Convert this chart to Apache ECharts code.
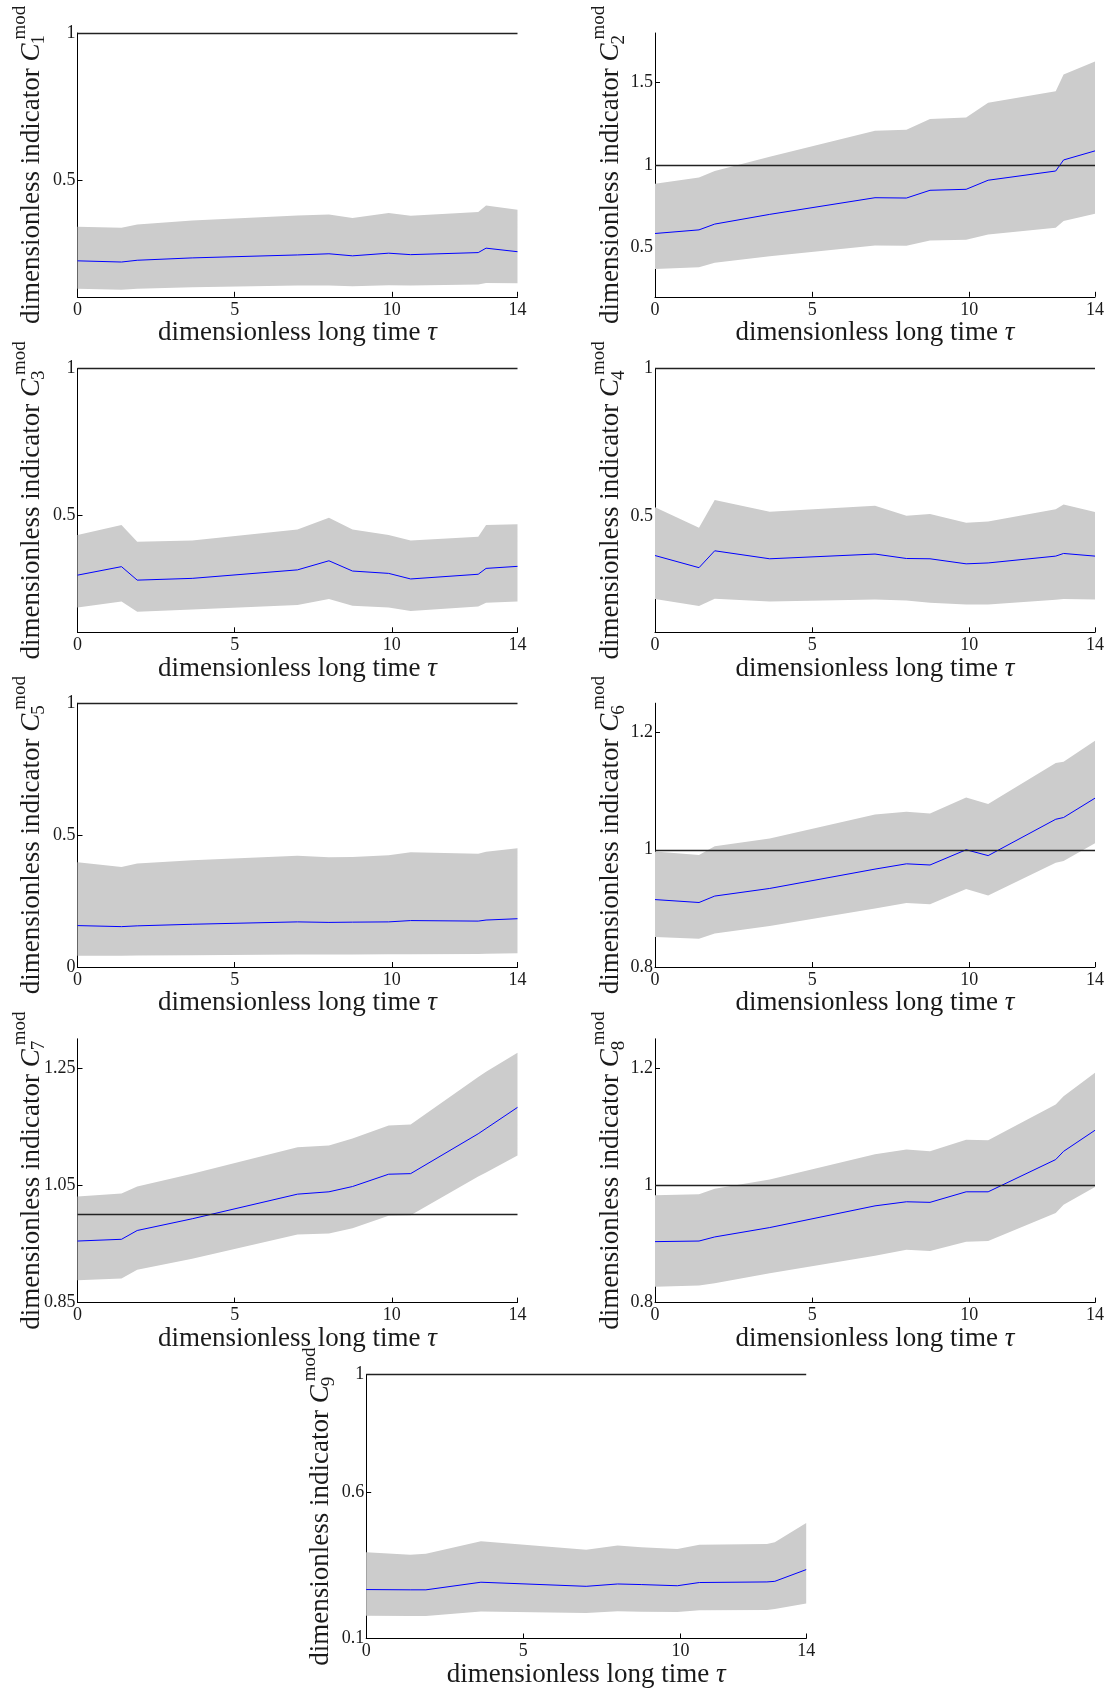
<!DOCTYPE html>
<html><head><meta charset="utf-8">
<script src="https://cdn.jsdelivr.net/npm/echarts@6/dist/echarts.min.js"></script>
<style>html,body{margin:0;padding:0;background:#fff}#c{width:1110px;height:1693px}</style>
</head><body><div id="c"></div>
<script>
// ---- data ----
const tau = [0, 1.4, 1.9, 3.65, 7.0, 8.0, 8.75, 9.9, 10.6, 12.75, 13.0, 14];
const xTicks = [0, 5, 10, 14];

const c1Lower = [0.132, 0.129, 0.132, 0.137, 0.143, 0.143, 0.141, 0.144, 0.143, 0.147, 0.152, 0.151];
const c1Mean  = [0.227, 0.223, 0.229, 0.237, 0.247, 0.251, 0.244, 0.253, 0.248, 0.255, 0.270, 0.258];
const c1Upper = [0.343, 0.339, 0.350, 0.364, 0.381, 0.384, 0.372, 0.389, 0.380, 0.393, 0.415, 0.400];
const c1Ticks = [0.5, 1];

const c2Lower = [0.369, 0.379, 0.406, 0.446, 0.511, 0.509, 0.542, 0.546, 0.578, 0.619, 0.659, 0.704];
const c2Mean  = [0.584, 0.606, 0.641, 0.700, 0.801, 0.799, 0.846, 0.852, 0.907, 0.963, 1.030, 1.085];
const c2Upper = [0.886, 0.923, 0.963, 1.049, 1.207, 1.213, 1.278, 1.288, 1.377, 1.446, 1.548, 1.627];
const c2Ticks = [0.5, 1, 1.5];

const c3Lower = [0.185, 0.205, 0.170, 0.178, 0.193, 0.214, 0.191, 0.185, 0.173, 0.188, 0.201, 0.205];
const c3Mean  = [0.295, 0.324, 0.278, 0.284, 0.313, 0.344, 0.309, 0.301, 0.282, 0.298, 0.318, 0.325];
const c3Upper = [0.432, 0.466, 0.409, 0.413, 0.451, 0.491, 0.451, 0.432, 0.413, 0.426, 0.466, 0.469];
const c3Ticks = [0.5, 1];

const c4Lower = [0.222, 0.199, 0.223, 0.214, 0.221, 0.217, 0.210, 0.204, 0.204, 0.220, 0.222, 0.221];
const c4Mean  = [0.369, 0.328, 0.385, 0.358, 0.374, 0.359, 0.358, 0.341, 0.344, 0.367, 0.376, 0.367];
const c4Upper = [0.532, 0.463, 0.556, 0.517, 0.537, 0.503, 0.509, 0.480, 0.484, 0.525, 0.541, 0.516];
const c4Ticks = [0.5, 1];

const c5Lower = [0.043, 0.043, 0.044, 0.045, 0.047, 0.047, 0.047, 0.048, 0.048, 0.049, 0.050, 0.052];
const c5Mean  = [0.157, 0.153, 0.156, 0.162, 0.171, 0.169, 0.170, 0.171, 0.176, 0.174, 0.178, 0.183];
const c5Upper = [0.397, 0.379, 0.392, 0.405, 0.422, 0.416, 0.417, 0.424, 0.435, 0.429, 0.437, 0.450];
const c5Ticks = [0, 0.5, 1];

const c6Lower = [0.851, 0.848, 0.857, 0.870, 0.900, 0.909, 0.907, 0.933, 0.922, 0.978, 0.981, 1.011];
const c6Mean  = [0.915, 0.910, 0.921, 0.934, 0.967, 0.976, 0.974, 1.000, 0.990, 1.052, 1.055, 1.088];
const c6Upper = [0.997, 0.991, 1.006, 1.019, 1.060, 1.065, 1.062, 1.089, 1.078, 1.148, 1.150, 1.186];
const c6Ticks = [0.8, 1, 1.2];

const c7Lower = [0.888, 0.891, 0.906, 0.925, 0.966, 0.968, 0.977, 0.998, 0.999, 1.065, 1.072, 1.101];
const c7Mean  = [0.955, 0.958, 0.973, 0.993, 1.035, 1.039, 1.048, 1.069, 1.070, 1.138, 1.147, 1.183];
const c7Upper = [1.031, 1.036, 1.048, 1.070, 1.115, 1.118, 1.130, 1.152, 1.154, 1.235, 1.244, 1.276];
const c7Ticks = [0.85, 1.05, 1.25];

const c8Lower = [0.827, 0.829, 0.833, 0.850, 0.880, 0.890, 0.888, 0.904, 0.905, 0.953, 0.967, 0.997];
const c8Mean  = [0.904, 0.905, 0.912, 0.928, 0.965, 0.972, 0.971, 0.989, 0.989, 1.044, 1.058, 1.094];
const c8Upper = [0.983, 0.985, 0.994, 1.010, 1.053, 1.061, 1.058, 1.078, 1.077, 1.138, 1.152, 1.192];
const c8Ticks = [0.8, 1, 1.2];

const c9Lower = [0.178, 0.177, 0.177, 0.192, 0.187, 0.193, 0.191, 0.190, 0.196, 0.197, 0.201, 0.219];
const c9Mean  = [0.267, 0.266, 0.266, 0.292, 0.278, 0.286, 0.284, 0.280, 0.291, 0.293, 0.295, 0.335];
const c9Upper = [0.394, 0.386, 0.389, 0.432, 0.403, 0.417, 0.411, 0.405, 0.420, 0.422, 0.428, 0.494];
const c9Ticks = [0.1, 0.6, 1];

const refValue = 1;

// ---- layout ----
const panels = [
  {lo:c1Lower, me:c1Mean, up:c1Upper, ticks:c1Ticks, min:0.105, max:1,    sub:'1', left:77.5,  top:33,     lab:46},
  {lo:c2Lower, me:c2Mean, up:c2Upper, ticks:c2Ticks, min:0.2,   max:1.8,  sub:'2', left:655,   top:33,     lab:44},
  {lo:c3Lower, me:c3Mean, up:c3Upper, ticks:c3Ticks, min:0.1,   max:1,    sub:'3', left:77.5,  top:368.5,  lab:46},
  {lo:c4Lower, me:c4Mean, up:c4Upper, ticks:c4Ticks, min:0.11,  max:1,    sub:'4', left:655,   top:368.5,  lab:44},
  {lo:c5Lower, me:c5Mean, up:c5Upper, ticks:c5Ticks, min:0,     max:1,    sub:'5', left:77.5,  top:703.2,  lab:46},
  {lo:c6Lower, me:c6Mean, up:c6Upper, ticks:c6Ticks, min:0.8,   max:1.25, sub:'6', left:655,   top:703.2,  lab:44},
  {lo:c7Lower, me:c7Mean, up:c7Upper, ticks:c7Ticks, min:0.85,  max:1.30, sub:'7', left:77.5,  top:1038.8, lab:46},
  {lo:c8Lower, me:c8Mean, up:c8Upper, ticks:c8Ticks, min:0.8,   max:1.25, sub:'8', left:655,   top:1038.8, lab:44},
  {lo:c9Lower, me:c9Mean, up:c9Upper, ticks:c9Ticks, min:0.1,   max:1,    sub:'9', left:366.2, top:1374.7, lab:45}
];
const W = 440, H = 263.8;
const FF = '"Liberation Serif", "Times New Roman", serif';
const TXT = '#1a1a1a';

const ctx = document.createElement('canvas').getContext('2d');
function tw(font, s) { ctx.font = font; return ctx.measureText(s).width; }
const F_MAIN = '27px ' + FF, F_IT = 'italic 27px ' + FF, F_SCR = '19px ' + FF;
const wMain = tw(F_MAIN, 'dimensionless indicator ');
const wC = tw(F_IT, 'C');
const wMod = tw(F_SCR, 'mod');
const total = wMain + wC + 4 + wMod;

const grid = [], xAxis = [], yAxis = [], series = [], graphic = [];
const fmt = v => String(+(+v).toFixed(3));

panels.forEach((p, i) => {
  grid.push({left: p.left, top: p.top, width: W, height: H});
  xAxis.push({
    gridIndex: i, type: 'value', min: 0, max: 14,
    axisLine: {show: true, onZero: false, lineStyle: {color: '#000', width: 1}},
    axisTick: {show: true, inside: true, length: 5, customValues: xTicks, lineStyle: {color: '#000'}},
    axisLabel: {customValues: xTicks, formatter: fmt, fontFamily: FF, fontSize: 18, color: TXT, margin: 4},
    splitLine: {show: false},
    name: 'dimensionless long time {t|τ}', nameLocation: 'middle', nameGap: 22,
    nameTextStyle: {fontFamily: FF, fontSize: 27, color: TXT,
      rich: {t: {fontFamily: FF, fontSize: 27, fontStyle: 'italic', color: TXT}}}
  });
  yAxis.push({
    gridIndex: i, type: 'value', min: p.min, max: p.max,
    axisLine: {show: true, onZero: false, lineStyle: {color: '#000', width: 1}},
    axisTick: {show: true, inside: true, length: 5, customValues: p.ticks, lineStyle: {color: '#000'}},
    axisLabel: {customValues: p.ticks, formatter: fmt, fontFamily: FF, fontSize: 18, color: TXT, margin: 2},
    splitLine: {show: false}
  });
  // shaded band between lower and upper
  series.push({
    type: 'custom', coordinateSystem: 'cartesian2d', xAxisIndex: i, yAxisIndex: i, silent: true, clip: true,
    data: tau.map((t, k) => [t, p.lo[k], p.up[k]]),
    encode: {x: 0, y: [1, 2]},
    renderItem: (params, api) => {
      if (params.dataIndex !== 0) return null;
      const pts = [];
      for (let k = 0; k < tau.length; k++) pts.push(api.coord([tau[k], p.up[k]]));
      for (let k = tau.length - 1; k >= 0; k--) pts.push(api.coord([tau[k], p.lo[k]]));
      return {type: 'polygon', shape: {points: pts}, style: {fill: '#cccccc', stroke: null}};
    },
    z: 1
  });
  // mean line with reference line at 1
  series.push({
    type: 'line', xAxisIndex: i, yAxisIndex: i, silent: true,
    symbol: 'none', lineStyle: {color: '#0000ff', width: 1},
    data: tau.map((t, k) => [t, p.me[k]]),
    markLine: {silent: true, symbol: 'none', label: {show: false},
      lineStyle: {color: '#222', width: 1.3, type: 'solid'},
      data: [{yAxis: refValue}]},
    z: 3
  });
  const x0 = -total / 2;
  graphic.push({
    type: 'group', x: p.left - p.lab, y: p.top + H / 2, rotation: Math.PI / 2, silent: true,
    children: [
      {type: 'text', x: x0, y: 0, style: {text: 'dimensionless indicator ', font: F_MAIN, fill: TXT, textAlign: 'left', textVerticalAlign: 'middle'}},
      {type: 'text', x: x0 + wMain, y: 0, style: {text: 'C', font: F_IT, fill: TXT, textAlign: 'left', textVerticalAlign: 'middle'}},
      {type: 'text', x: x0 + wMain + wC + 4, y: -11.5, style: {text: 'mod', font: F_SCR, fill: TXT, textAlign: 'left', textVerticalAlign: 'middle'}},
      {type: 'text', x: x0 + wMain + wC - 1, y: 8, style: {text: p.sub, font: F_SCR, fill: TXT, textAlign: 'left', textVerticalAlign: 'middle'}}
    ]
  });
});

const chart = echarts.init(document.getElementById('c'), null, {renderer: 'canvas'});
chart.setOption({animation: false, backgroundColor: '#fff', grid, xAxis, yAxis, series, graphic});
</script>
</body></html>
